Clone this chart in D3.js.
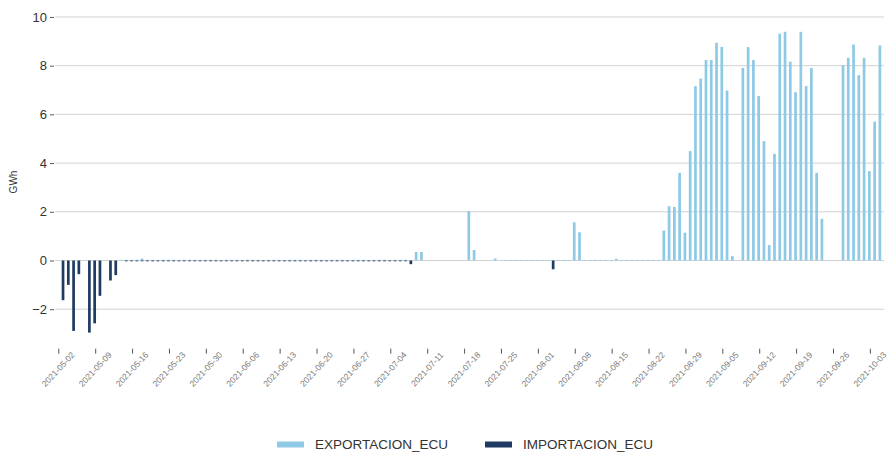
<!DOCTYPE html>
<html>
<head>
<meta charset="utf-8">
<script src="https://cdn.jsdelivr.net/npm/d3@7"></script>
<style>
  body { margin: 0; background: #fff; }
  svg { font-family: "Liberation Sans", Arial, sans-serif; }
</style>
</head>
<body>
<svg id="chart" width="887" height="459"></svg>
<script>
// daily values, first day 2021-05-02, one row per week (Sun..Sat)
const firstDay = "2021-05-02";
const exportGwh = [
  0, 0, 0, 0, 0, 0, 0,
  0, 0, 0, 0, 0.03, 0.03, 0.03,
  0.03, 0.08, 0.03, 0.03, 0.02, 0.03, 0.03,
  0.03, 0.02, 0.03, 0.03, 0.03, 0.02, 0.03,
  0.03, 0.03, 0.02, 0.03, 0.03, 0.03, 0.02,
  0.03, 0.03, 0.03, 0.02, 0.03, 0.03, 0.03,
  0.02, 0.03, 0.03, 0.03, 0.02, 0.03, 0.03,
  0.03, 0.02, 0.03, 0.03, 0.03, 0.02, 0.03,
  0.03, 0.03, 0.02, 0.03, 0.03, 0.03, 0.02,
  0.03, 0.03, 0.03, 0, 0.35, 0.35, 0,
  0, 0, 0, 0, 0, 0, 0,
  2.03, 0.43, 0, 0, 0, 0.08, 0,
  0.02, 0.02, 0.02, 0.02, 0.02, 0.02, 0.02,
  0.02, 0.02, 0, 0.02, 0.02, 0.02, 1.57,
  1.16, 0.02, 0.02, 0.02, 0.02, 0.02, 0.02,
  0.07, 0.02, 0.02, 0.02, 0.02, 0.02, 0.02,
  0.02, 0.02, 1.23, 2.23, 2.2, 3.6, 1.14,
  4.49, 7.16, 7.47, 8.23, 8.23, 8.94, 8.77,
  6.98, 0.18, 0, 7.91, 8.76, 8.23, 6.75,
  4.9, 0.63, 4.38, 9.31, 9.39, 8.16, 6.91,
  9.39, 7.16, 7.91, 3.6, 1.71, 0, 0,
  0, 8.02, 8.32, 8.87, 7.61, 8.32, 3.67,
  5.7, 8.83
];
const importGwh = [
  -1.63, -1.0, -2.89, -0.56, 0, -2.96, -2.58,
  -1.45, 0, -0.82, -0.6, 0, -0.02, -0.02,
  -0.02, -0.02, -0.02, -0.02, -0.02, -0.02, -0.02,
  -0.02, -0.02, -0.02, -0.02, -0.02, -0.02, -0.02,
  -0.02, -0.02, -0.02, -0.02, -0.02, -0.02, -0.02,
  -0.02, -0.02, -0.02, -0.02, -0.02, -0.02, -0.02,
  -0.02, -0.02, -0.02, -0.02, -0.02, -0.02, -0.02,
  -0.02, -0.02, -0.02, -0.02, -0.02, -0.02, -0.02,
  -0.02, -0.02, -0.02, -0.02, -0.02, -0.02, -0.02,
  -0.02, -0.02, -0.02, -0.15, 0, 0, 0,
  0, 0, 0, 0, 0, 0, 0,
  0, 0, 0, 0, 0, 0, 0,
  0, 0, 0, 0, 0, 0, 0,
  0, 0, -0.36, 0, 0, 0, 0,
  0, 0, 0, 0, 0, 0, 0,
  0, 0, 0, 0, 0, 0, 0,
  0, 0, 0, 0, 0, 0, 0,
  0, 0, 0, 0, 0, 0, 0,
  0, 0, 0, 0, 0, 0, 0,
  0, 0, 0, 0, 0, 0, 0,
  0, 0, 0, 0, 0, 0, 0,
  0, 0, 0, 0, 0, 0, 0,
  0, 0
];
const seriesNames = ["EXPORTACION_ECU", "IMPORTACION_ECU"];
const seriesColors = ["#8ecae6", "#1f3b63"];
const yTicks = [-2, 0, 2, 4, 6, 8, 10];
const yLabel = "GWh";

const DAY = 864e5;
const svg = d3.select("#chart");

const plotL = 55, plotR = 884, plotT = 16.7, plotB = 347.7;
const start = d3.utcParse("%Y-%m-%d")(firstDay);
const days = exportGwh.map((_, i) => new Date(+start + i * DAY));

// x: time scale, y: linear with ggplot-like padding
const x = d3.scaleUtc()
  .domain([new Date(+start - 0.626 * DAY), new Date(+start + 156.68 * DAY)])
  .range([plotL, plotR]);
const y = d3.scaleLinear().domain([-3.58, 10.01]).range([plotB, plotT]);

const dayPx = x(new Date(+start + DAY)) - x(start);
const barW = 2.7;

// grid
svg.append("g")
  .selectAll("line")
  .data(yTicks)
  .join("line")
  .attr("x1", plotL).attr("x2", plotR)
  .attr("y1", d => y(d)).attr("y2", d => y(d))
  .attr("stroke", "#d2d2d2")
  .attr("stroke-width", 1);

// y axis
const yAxis = svg.append("g")
  .attr("transform", "translate(" + plotL + ",0)")
  .call(d3.axisLeft(y).tickValues(yTicks).tickSize(4).tickPadding(4));
yAxis.select(".domain").remove();
yAxis.selectAll(".tick line").attr("stroke", "#555").attr("transform", "translate(-1,0)");
yAxis.selectAll("text")
  .attr("font-size", 13)
  .attr("fill", "#333")
  .attr("font-family", "Liberation Sans, Arial, sans-serif");

svg.append("text")
  .attr("transform", "translate(17,182) rotate(-90)")
  .attr("text-anchor", "middle")
  .attr("font-size", 10)
  .attr("fill", "#333")
  .text(yLabel);

// x axis
const weekTicks = d3.utcSunday.range(start, new Date(+start + 156 * DAY));
const xAxis = svg.append("g")
  .attr("transform", "translate(0," + plotB + ")")
  .call(d3.axisBottom(x).tickValues(weekTicks).tickSize(5)
    .tickFormat(d3.utcFormat("%Y-%m-%d")));
xAxis.select(".domain").remove();
xAxis.selectAll(".tick line").attr("stroke", "#555").attr("transform", "translate(0,1)");
xAxis.selectAll("text")
  .attr("font-size", 8.5)
  .attr("fill", "#777")
  .attr("font-family", "Liberation Sans, Arial, sans-serif")
  .attr("text-anchor", "middle")
  .attr("dy", null)
  .attr("y", 0)
  .attr("transform", "translate(0,22) rotate(-47)")
  .attr("dominant-baseline", "middle");

// bars
const bars = svg.append("g");
[exportGwh, importGwh].forEach((vals, s) => {
  bars.append("g")
    .selectAll("rect")
    .data(vals.map((v, i) => ({ d: days[i], v })).filter(e => e.v !== 0))
    .join("rect")
    .attr("x", e => x(e.d) + 0.9 * dayPx - barW / 2)
    .attr("width", barW)
    .attr("y", e => y(Math.max(0, e.v)))
    .attr("height", e => Math.max(0.8, Math.abs(y(e.v) - y(0))))
    .attr("fill", seriesColors[s]);
});

// legend
const legendX = [277, 485];
const lg = svg.append("g");
seriesNames.forEach((name, i) => {
  lg.append("rect")
    .attr("x", legendX[i]).attr("y", 441.5)
    .attr("width", 27).attr("height", 6)
    .attr("fill", seriesColors[i]);
  lg.append("text")
    .attr("x", legendX[i] + 38).attr("y", 449)
    .attr("font-size", 13.5)
    .attr("fill", "#333")
    .text(name);
});
</script>
</body>
</html>
